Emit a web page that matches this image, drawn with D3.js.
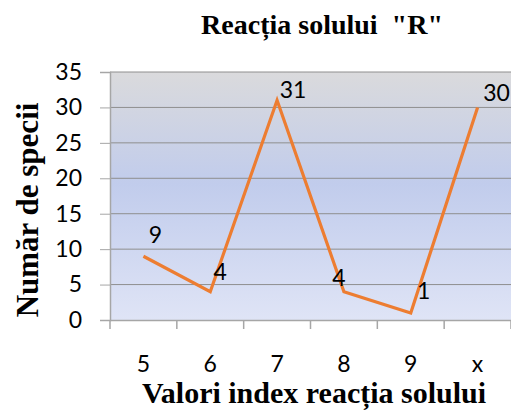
<!DOCTYPE html>
<html>
<head>
<meta charset="utf-8">
<script src="https://cdn.jsdelivr.net/npm/d3@7/dist/d3.min.js"></script>
<style>
  html, body { margin: 0; padding: 0; background: #fff; }
  svg { display: block; }
  text { white-space: pre; }
</style>
</head>
<body>
<svg id="chart" width="511" height="412"></svg>
<script>
// pH classes and number of species found in each
const categories = ["5", "6", "7", "8", "9", "x"];
const speciesCounts = [9, 4, 31, 4, 1, 30];
const yTicks = [0, 5, 10, 15, 20, 25, 30, 35];

const chartTitle = "Reacția solului  \"R\"";
const xTitle = "Valori index reacția solului";
const yTitle = "Număr de specii";

// label placement relative to each point (dx, dy of the text centre)
const labelOffsets = [[12, -22], [10, -21], [16, -11], [-5, -15], [13, -23], [19, -15]];

const W = 511, H = 412;
const margin = { top: 72, right: 0, bottom: 92, left: 110 };
const plotW = W - margin.left - margin.right;
const plotH = H - margin.top - margin.bottom;

const svg = d3.select("#chart");

const x = d3.scaleBand().domain(categories).range([0, plotW]).padding(0);
const y = d3.scaleLinear().domain([0, 35]).range([plotH, 0]);

// plot-area background gradient: grey at top, blue in the middle, pale at bottom
const defs = svg.append("defs");
const grad = defs.append("linearGradient").attr("id", "bg")
  .attr("x1", 0).attr("y1", 0).attr("x2", 0).attr("y2", 1);
grad.append("stop").attr("offset", "0%").attr("stop-color", "#dadadc");
grad.append("stop").attr("offset", "45%").attr("stop-color", "#c1ccec");
grad.append("stop").attr("offset", "100%").attr("stop-color", "#dfe4f6");

const g = svg.append("g").attr("transform", `translate(${margin.left},${margin.top})`);

g.append("rect").attr("width", plotW).attr("height", plotH).attr("fill", "url(#bg)");

// horizontal gridlines
g.append("g").selectAll("line").data(yTicks.filter(d => d > 0)).join("line")
  .attr("x1", 0).attr("x2", plotW)
  .attr("y1", d => y(d)).attr("y2", d => y(d))
  .attr("stroke", "#8e8e8e").attr("stroke-width", 1);

const tickFont = "Lato, 'Open Sans', sans-serif";

// y axis
const yAxis = g.append("g").call(d3.axisLeft(y).tickValues(yTicks).tickSize(10).tickPadding(18));
yAxis.select(".domain").attr("stroke", "#a6a6a6").attr("stroke-width", 1.5);
yAxis.selectAll(".tick line").attr("stroke", "#a6a6a6");
yAxis.selectAll(".tick text")
  .attr("font-family", tickFont).attr("font-size", 23).attr("fill", "#000");

// x axis: ticks fall between categories
const xAxis = g.append("g").attr("transform", `translate(0,${plotH})`)
  .call(d3.axisBottom(x).tickSize(0).tickPadding(36));
xAxis.select(".domain").attr("stroke", "#a6a6a6").attr("stroke-width", 1.5);
xAxis.selectAll(".tick text")
  .attr("font-family", tickFont).attr("font-size", 23).attr("fill", "#000");
const edges = categories.map(c => x(c)).concat([plotW]);
xAxis.append("g").selectAll("line").data(edges).join("line")
  .attr("x1", d => d).attr("x2", d => d).attr("y1", 0).attr("y2", 9)
  .attr("stroke", "#a6a6a6").attr("stroke-width", 1.5);

// data line
const cx = (d, i) => x(categories[i]) + x.bandwidth() / 2;
const line = d3.line().x(cx).y(d => y(d));
g.append("path").datum(speciesCounts).attr("d", line)
  .attr("fill", "none").attr("stroke", "#ed7d31").attr("stroke-width", 3.2)
  .attr("stroke-linejoin", "miter");

// value labels
g.append("g").selectAll("text").data(speciesCounts).join("text")
  .attr("x", (d, i) => cx(d, i) + labelOffsets[i][0])
  .attr("y", (d, i) => y(d) + labelOffsets[i][1])
  .attr("text-anchor", "middle").attr("dominant-baseline", "central")
  .attr("font-family", tickFont).attr("font-size", 23).attr("fill", "#000")
  .text(d => d);

// titles
const serif = "'Liberation Serif', 'DejaVu Serif', serif";
svg.append("text").attr("x", 322).attr("y", 34).attr("text-anchor", "middle")
  .attr("font-family", serif).attr("font-weight", "bold")
  .attr("font-size", 28).attr("fill", "#000").text(chartTitle);

svg.append("text").attr("x", 314).attr("y", 403).attr("text-anchor", "middle")
  .attr("font-family", serif).attr("font-weight", "bold")
  .attr("font-size", 30).attr("fill", "#000").text(xTitle);

svg.append("text").attr("transform", "translate(38,210) rotate(-90)").attr("text-anchor", "middle")
  .attr("font-family", serif).attr("font-weight", "bold")
  .attr("font-size", 31).attr("fill", "#000").text(yTitle);
</script>
</body>
</html>
